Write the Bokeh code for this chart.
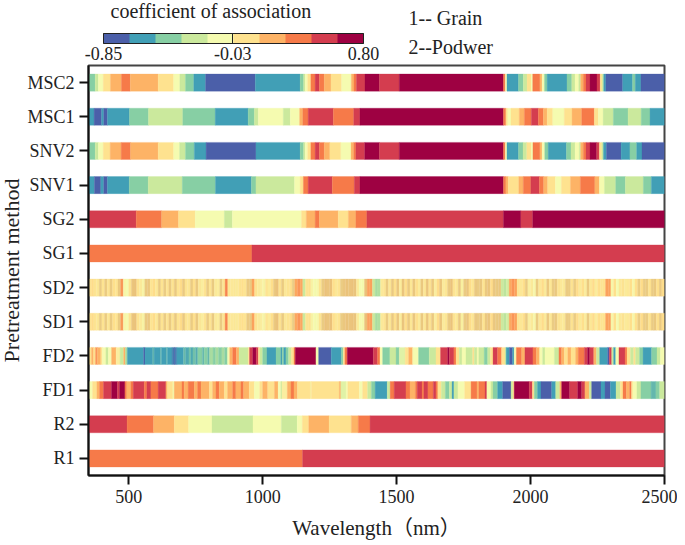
from bokeh.plotting import figure
from bokeh.layouts import column
from bokeh.models import ColumnDataSource, FactorRange, Range1d, LinearColorMapper, ColorBar, FixedTicker, PrintfTickFormatter
from bokeh.core.properties import value
from bokeh.embed import file_html
from bokeh.resources import INLINE

ROWS = ["R1", "R2", "FD1", "FD2", "SD1", "SD2", "SG1", "SG2", "SNV1", "SNV2", "MSC1", "MSC2"]
PALETTE = ["#4b5fa9", "#419fb6", "#87cfa4", "#cbe99d", "#f5fbb0", "#fee28f", "#fdb366", "#f67a49", "#d43d4f", "#9e0142"]
X_TICKS = [500, 1000, 1500, 2000, 2500]
BAR_TICKS = [-0.85, -0.03, 0.80]
WL_MIN, WL_MAX = 350, 2500
SD_STEP = 10
HEADER_TEXT = ["coefficient of association", "1-- Grain", "2--Podwer"]

MSC2_START = [350, 375, 387, 405, 432, 473, 506, 610, 668, 691, 712, 743, 787, 973, 1140, 1153, 1159, 1168, 1180, 1196, 1212, 1230, 1255, 1295, 1331, 1341, 1350, 1382, 1436, 1510, 1899, 1906, 1912, 1955, 1973, 1987, 2002, 2008, 2035, 2043, 2052, 2062, 2136, 2154, 2166, 2180, 2187, 2197, 2207, 2222, 2248, 2260, 2267, 2273, 2281, 2344, 2381, 2391, 2412]
MSC2_CLS = [2, 3, 4, 5, 6, 7, 6, 5, 4, 3, 2, 1, 0, 1, 2, 3, 4, 5, 7, 8, 7, 6, 5, 4, 6, 7, 8, 9, 8, 9, 7, 4, 1, 2, 3, 5, 4, 7, 6, 4, 2, 1, 2, 3, 4, 3, 6, 7, 8, 9, 8, 5, 3, 1, 0, 1, 2, 1, 0]

MSC1_START = [350, 371, 399, 407, 421, 503, 574, 702, 823, 946, 969, 984, 1077, 1103, 1138, 1150, 1170, 1264, 1340, 1363, 1899, 1908, 1915, 1927, 1958, 1977, 2003, 2029, 2048, 2062, 2083, 2126, 2155, 2191, 2238, 2253, 2271, 2309, 2364, 2413, 2446]
MSC1_CLS = [1, 0, 1, 0, 1, 2, 3, 2, 1, 2, 3, 4, 3, 4, 6, 7, 8, 7, 8, 9, 7, 5, 4, 5, 6, 7, 8, 7, 6, 5, 4, 5, 6, 7, 5, 4, 3, 2, 3, 2, 1]

SNV2_START = [350, 375, 387, 405, 431, 472, 507, 610, 668, 690, 712, 745, 789, 975, 1140, 1153, 1159, 1168, 1180, 1196, 1212, 1230, 1251, 1292, 1330, 1340, 1348, 1381, 1436, 1510, 1899, 1906, 1912, 1955, 1972, 1986, 2002, 2009, 2035, 2043, 2053, 2066, 2134, 2151, 2166, 2182, 2187, 2197, 2207, 2222, 2247, 2257, 2266, 2272, 2283, 2338, 2371, 2396, 2416]
SNV2_CLS = [2, 3, 4, 5, 6, 7, 6, 5, 4, 3, 2, 1, 0, 1, 2, 3, 4, 5, 7, 8, 7, 6, 5, 4, 6, 7, 8, 9, 8, 9, 7, 4, 1, 2, 3, 5, 4, 7, 6, 4, 2, 1, 2, 3, 4, 3, 6, 7, 8, 9, 8, 5, 3, 1, 0, 1, 2, 1, 0]

SNV1_START = [350, 372, 396, 407, 421, 502, 573, 700, 824, 958, 975, 1119, 1140, 1152, 1170, 1260, 1342, 1363, 1899, 1908, 1917, 1956, 1973, 2001, 2033, 2049, 2064, 2093, 2115, 2149, 2186, 2240, 2257, 2276, 2318, 2354, 2421, 2451]
SNV1_CLS = [1, 0, 1, 0, 1, 2, 3, 2, 1, 2, 3, 4, 5, 7, 8, 7, 8, 9, 7, 6, 5, 6, 7, 8, 7, 6, 5, 4, 5, 6, 7, 6, 4, 3, 2, 3, 2, 1]

SG2_START = [350, 528, 623, 686, 748, 857, 887, 1145, 1163, 1196, 1212, 1282, 1320, 1348, 1389, 1899, 1964, 2008]
SG2_CLS = [8, 7, 6, 5, 4, 3, 4, 5, 6, 7, 6, 5, 6, 7, 8, 9, 8, 9]

SG1_START = [350, 960]
SG1_CLS = [7, 8]

SD2_VALS = [
    5, 5.3, 5, 4.8, 5.4, 5, 5.4, 5, 5.5, 5.2,
    5, 5.6, 6.5, 3.8, 3.5, 5, 5.8, 6, 5, 4.6,
    4, 5.5, 5.7, 5, 5.3, 4.7, 5.5, 5, 5.4, 5,
    5.5, 5, 5.6, 5, 5.3, 5.6, 5, 4.8, 5.5, 5.2,
    5.6, 4.8, 4.4, 5, 5.4, 5, 5.5, 4.6, 4.5, 5.4,
    5, 6.8, 4.8, 4.7, 4.8, 4.6, 5, 5.2, 5, 5.5,
    5.6, 6.3, 5, 4.6, 4.3, 3.9, 5, 4.6, 5.2, 5.6,
    6, 5, 5.5, 4.8, 5, 5.2, 5.4, 6.2, 6.5, 6.2,
    3, 5, 5.2, 4, 3.5, 3.7, 5, 5.4, 6, 5.8,
    6, 5.2, 4.8, 5, 5.4, 5.7, 5.9, 5.8, 6, 5.8,
    4.6, 3.5, 3.5, 6, 6.3, 6.3, 3, 2.5, 2.6, 4.6,
    5, 5.5, 4.8, 5.6, 5.2, 5.7, 4.5, 5.8, 5.2, 5.6,
    4.8, 5.7, 5.2, 4.6, 5.6, 4.8, 5.8, 5, 5.6, 4.4,
    5.3, 5.8, 4.6, 4.8, 5.5, 5.9, 5, 4.7, 5.6, 4.2,
    5.4, 5.8, 5.3, 4.8, 5.6, 5.4, 5.7, 5, 5.6, 5.8,
    5.3, 5.7, 5.5, 5.7, 3, 2.8, 3.2, 6.2, 6.5, 6.3,
    5, 4.8, 5.2, 5.5, 4.3, 4.6, 3.8, 5.4, 4.7, 5.3,
    4.6, 5.6, 4.8, 5.4, 5.6, 5, 4.7, 4.6, 5.5, 5.5,
    5, 5.4, 5.3, 4.6, 5.2, 4.5, 5.5, 4.8, 5.3, 4.5,
    5.2, 5, 5.1, 6.3, 6.3, 3.8, 5.2, 3.5, 4.7, 5,
    4.6, 4.7, 5.2, 3.8, 5.2, 5.4, 5.3, 5.4, 5.5, 5.1,
    5.5, 5.6, 5.2, 5.6, 5.3,
]
SD1_VALS = [
    5, 5.3, 5, 4.8, 5.4, 5, 5.4, 4.9, 5.5, 5.2,
    5, 5.5, 6.4, 3.8, 3.6, 5, 5.8, 6, 5, 4.6,
    4.1, 5.5, 5.7, 5, 5.3, 4.7, 5.5, 5, 5.4, 5,
    5.5, 5, 5.6, 5, 5.3, 5.6, 5, 4.8, 5.5, 5.2,
    5.6, 4.8, 4.4, 5, 5.4, 5, 5.5, 4.6, 4.5, 5.4,
    5, 6.8, 4.8, 4.7, 4.8, 4.6, 5, 5.2, 5, 5.5,
    5.6, 6.3, 5, 4.6, 4.4, 3.9, 5, 4.6, 5.2, 5.6,
    6, 5, 5.5, 4.8, 5, 5.2, 5.4, 6.2, 6.5, 6.2,
    3, 5, 5.2, 4, 3.5, 3.7, 5, 5.4, 6, 5.8,
    6, 5.2, 4.8, 5, 5.4, 5.7, 5.9, 5.8, 6, 5.8,
    4.6, 3.5, 3.6, 6, 6.3, 6.3, 3, 2.5, 2.6, 4.6,
    5, 5.5, 4.8, 5.6, 5.2, 5.7, 4.5, 5.8, 5.2, 5.6,
    4.8, 5.7, 5.2, 4.6, 5.6, 4.8, 5.8, 5, 5.6, 4.4,
    5.3, 5.8, 4.6, 4.8, 5.5, 5.9, 5, 4.7, 5.6, 4.2,
    5.4, 5.8, 5.3, 4.8, 5.6, 5.4, 5.7, 5, 5.6, 5.8,
    5.3, 5.7, 5.5, 5.7, 3, 2.8, 3.2, 6.2, 6.5, 6.3,
    5, 4.8, 5.2, 5.5, 4.3, 4.6, 3.8, 5.4, 4.7, 5.3,
    4.6, 5.6, 4.8, 5.4, 5.6, 5, 4.7, 4.6, 5.5, 5.5,
    5, 5.4, 5.3, 4.6, 5.2, 4.5, 5.5, 4.8, 5.3, 4.5,
    5.2, 5, 5.1, 6.3, 6.3, 3.8, 5.2, 3.5, 4.7, 5,
    4.6, 4.7, 5.2, 3.8, 5.2, 5.4, 5.3, 5.4, 5.5, 5.1,
    5.5, 5.6, 5.2, 5.6, 5.3,
]

FD2_START = [350, 361, 369, 376, 384, 396, 402, 415, 424, 436, 453, 468, 481, 488, 495, 556, 561, 590, 595, 618, 623, 640, 645, 662, 670, 673, 680, 705, 712, 725, 732, 740, 750, 758, 775, 782, 795, 802, 815, 825, 835, 848, 858, 869, 877, 888, 902, 912, 946, 951, 963, 976, 984, 990, 1000, 1016, 1050, 1068, 1073, 1079, 1087, 1097, 1107, 1117, 1122, 1199, 1209, 1256, 1294, 1301, 1307, 1316, 1413, 1429, 1438, 1448, 1475, 1498, 1510, 1532, 1545, 1560, 1582, 1622, 1647, 1664, 1691, 1697, 1714, 1722, 1734, 1744, 1759, 1784, 1790, 1800, 1807, 1827, 1840, 1850, 1860, 1877, 1892, 1905, 1909, 1921, 1933, 1939, 1947, 1967, 1979, 2009, 2022, 2034, 2045, 2054, 2089, 2106, 2116, 2126, 2139, 2151, 2168, 2178, 2201, 2213, 2221, 2236, 2246, 2258, 2288, 2294, 2303, 2310, 2318, 2330, 2353, 2360, 2373, 2385, 2392, 2407, 2420, 2452, 2472, 2485]
FD2_CLS = [5, 6, 5, 6.5, 6, 5, 4, 3, 4, 6, 4.5, 3, 6, 2.5, 1, 0, 1, 1.5, 1, 1.4, 1, 1.4, 1, 0.5, 0, 0.5, 1, 1.6, 1.2, 1.7, 1.2, 1.7, 1.3, 2, 1.5, 2, 1.5, 2.5, 2, 2.5, 2, 2.5, 2, 4, 6, 7, 6, 3, 5, 8, 9, 8, 5, 3, 2, 1, 2, 1, 2, 1, 2, 3, 5, 7, 9, 4, 0, 1, 2, 5, 7, 9, 8, 7, 4, 2, 3, 2, 3.5, 5, 6, 4, 2, 3, 5, 8, 9, 8, 7, 5, 3, 4, 3, 5, 3, 4, 3, 2, 3, 5, 8, 7, 5, 3, 1, 0, 1, 4, 7, 6, 8, 7, 6, 4, 3, 4, 3, 7, 6, 5, 6, 5, 6, 7, 8, 9, 8, 6, 3, 1, 0, 8, 3, 1, 4, 8, 7, 5, 3, 5, 3, 2, 1, 2, 3, 4]

FD1_START = [350, 365, 381, 391, 406, 436, 458, 466, 486, 493, 508, 517, 558, 568, 583, 610, 639, 645, 665, 670, 699, 707, 722, 745, 757, 770, 801, 813, 826, 838, 857, 869, 888, 900, 919, 929, 950, 969, 989, 1000, 1019, 1044, 1058, 1068, 1072, 1092, 1106, 1117, 1130, 1177, 1182, 1286, 1292, 1311, 1318, 1361, 1373, 1392, 1406, 1420, 1465, 1476, 1491, 1535, 1550, 1570, 1577, 1595, 1602, 1617, 1637, 1647, 1654, 1667, 1682, 1697, 1707, 1714, 1729, 1754, 1778, 1800, 1807, 1830, 1837, 1852, 1860, 1877, 1896, 1927, 1934, 1939, 1995, 2007, 2014, 2026, 2039, 2079, 2094, 2109, 2116, 2146, 2176, 2191, 2203, 2219, 2228, 2263, 2278, 2298, 2319, 2335, 2345, 2358, 2370, 2377, 2382, 2397, 2412, 2450, 2468, 2482]
FD1_CLS = [4, 5, 6, 7, 8, 9, 8, 9, 7, 6, 7, 8, 7, 8, 7, 8, 6, 5, 4, 6, 7, 6, 7, 6, 7, 6, 5, 6, 7, 6, 5, 6, 7, 6, 7, 6, 5, 4, 5, 6, 5, 6, 4, 3, 4.5, 6, 7, 6, 5, 4.5, 5, 6, 3.5, 4, 5, 4, 5, 3, 2, 1, 3, 7, 8, 7, 6, 7, 8, 7, 8, 7, 8, 7, 5, 3, 2, 3, 1, 3, 4, 5, 7, 6, 7, 8, 4, 3, 2, 1, 0, 3, 5, 9, 8, 5, 2, 1, 0, 1, 3, 6, 9, 8, 9, 8, 6, 3, 0, 1, 0, 1, 3, 5, 7, 6, 7, 5, 4, 3, 2, 1.5, 2, 3]

R2_START = [350, 494, 593, 670, 724, 811, 964, 1070, 1129, 1148, 1172, 1248, 1331, 1357, 1401]
R2_CLS = [8, 7, 6, 5, 4, 3, 4, 3, 4, 5, 6, 5, 6, 7, 8]

R1_START = [350, 1149]
R1_CLS = [7, 8]

SERIF = "Liberation Serif"
INK = "#222222"
HEADER_H = 63


def mix(c1, c2, t):
    parts = [round(int(c1[j:j + 2], 16) * (1 - t) + int(c2[j:j + 2], 16) * t) for j in (1, 3, 5)]
    return "#%02x%02x%02x" % tuple(parts)


def shade(k):
    i = min(int(k), len(PALETTE) - 2)
    return mix(PALETTE[i], PALETTE[i + 1], k - i)


def sd_shade(k):
    # thin stripes of the SD rows blur together to muted tones in the picture
    if abs(k - 4.8) < 1.3:
        c = shade(4.8 + 0.6 * (k - 4.8))
        return mix(c, "#c9b27a", 0.35) if k > 5.3 else c
    return shade(k)


def sd_starts(vals):
    return [WL_MIN + SD_STEP * i for i in range(len(vals))]


SERIES = {
    "R1": (R1_START, R1_CLS), "R2": (R2_START, R2_CLS),
    "FD1": (FD1_START, FD1_CLS), "FD2": (FD2_START, FD2_CLS),
    "SD1": (sd_starts(SD1_VALS), SD1_VALS), "SD2": (sd_starts(SD2_VALS), SD2_VALS),
    "SG1": (SG1_START, SG1_CLS), "SG2": (SG2_START, SG2_CLS),
    "SNV1": (SNV1_START, SNV1_CLS), "SNV2": (SNV2_START, SNV2_CLS),
    "MSC1": (MSC1_START, MSC1_CLS), "MSC2": (MSC2_START, MSC2_CLS),
}

y, left, right, fill = [], [], [], []
for row in ROWS:
    starts, cls = SERIES[row]
    ends = starts[1:] + [WL_MAX]
    painter = sd_shade if row in ("SD1", "SD2") else shade
    for s, e, c in zip(starts, ends, cls):
        y.append(row)
        left.append(s)
        right.append(e)
        fill.append(painter(c))

# Header strip: legend title, colour bar and the two notes.
head = figure(width=685, height=HEADER_H, output_backend="svg", toolbar_location=None,
              x_range=Range1d(89, 665), y_range=Range1d(HEADER_H, 0),
              min_border_left=96, min_border_right=13, min_border_top=0, min_border_bottom=0,
              x_axis_type=None, y_axis_type=None, outline_line_color=None)
head.grid.visible = False
head.text(x=[111, 409, 409], y=[10, 17, 46], text=HEADER_TEXT,
          text_font=value(SERIF), text_font_size="20px", text_color=INK, text_baseline="middle")

mapper = LinearColorMapper(palette=PALETTE, low=BAR_TICKS[0], high=BAR_TICKS[-1])
bar = ColorBar(color_mapper=mapper, orientation="horizontal", width=260, height=10,
               location=(15, 1), padding=0, margin=0,
               ticker=FixedTicker(ticks=BAR_TICKS), formatter=PrintfTickFormatter(format="%.2f"),
               major_tick_line_color="#222222", major_tick_in=10, major_tick_out=0,
               minor_tick_line_color=None, bar_line_color="#222222", bar_line_width=1,
               major_label_text_font=SERIF, major_label_text_font_size="18px",
               major_label_text_color=INK, label_standoff=3,
               background_fill_alpha=0, border_line_color=None)
head.add_layout(bar, "center")

p = figure(width=685, height=545 - HEADER_H, output_backend="svg", toolbar_location=None,
           x_range=Range1d(WL_MIN, WL_MAX), y_range=FactorRange(factors=ROWS, range_padding=0),
           min_border_left=96, min_border_right=13, min_border_top=2, min_border_bottom=70,
           frame_width=576, frame_height=410)

p.hbar(y="y", left="left", right="right", height=0.5, fill_color="fill", line_color="fill", line_width=0.3,
       source=ColumnDataSource(dict(y=y, left=left, right=right, fill=fill)))

p.grid.visible = False
p.outline_line_color = "#444444"
p.outline_line_width = 2

p.xaxis.ticker = FixedTicker(ticks=X_TICKS)
p.xaxis.minor_tick_line_color = None
p.xaxis.axis_label = "Wavelength（nm）"
p.xaxis.axis_label_standoff = 10
p.yaxis.axis_label = "Pretreatment method"
p.yaxis.axis_label_standoff = 0
for ax in (p.xaxis[0], p.yaxis[0]):
    ax.axis_line_color = "#111111"
    ax.axis_line_width = 2
    ax.major_tick_line_color = "#111111"
    ax.major_tick_line_width = 2
    ax.major_tick_out = 9
    ax.major_tick_in = 0
    ax.major_label_text_font = SERIF
    ax.major_label_text_font_size = "18px"
    ax.major_label_text_color = INK
    ax.major_label_standoff = 5
    ax.axis_label_text_font = SERIF + ", 'Noto Sans CJK SC'"
    ax.axis_label_text_font_style = "normal"
    ax.axis_label_text_color = INK
p.xaxis.axis_label_text_font_size = "21px"
p.yaxis.axis_label_text_font_size = "22px"

page = column(head, p, spacing=0, styles={"margin-left": "-8px"})
open("out.html", "w").write(file_html(page, INLINE))
